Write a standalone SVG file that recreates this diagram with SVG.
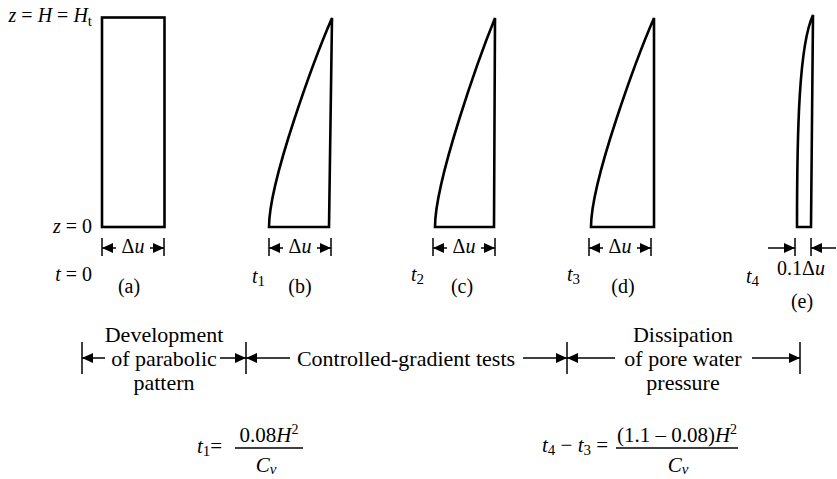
<svg xmlns="http://www.w3.org/2000/svg" width="837" height="479" viewBox="0 0 837 479">
<style>
.sh{fill:#fff;stroke:#000;stroke-width:2.6;stroke-linejoin:miter}
.tk{stroke:#000;stroke-width:1.5}
.ar{stroke:#000;stroke-width:1.5;fill:none;marker-end:url(#ah)}
.fl{stroke:#000;stroke-width:1.3}
</style>
<defs>
<marker id="ah" viewBox="0 0 11 10" refX="11" refY="5" markerWidth="11" markerHeight="10" orient="auto" markerUnits="userSpaceOnUse">
<path d="M0,0 L11,5 L0,10 Z" fill="#000"/>
</marker>
</defs>

<g id="labels-left">
<text font-family="Liberation Serif" font-size="20" text-anchor="end" x="92" y="22"><tspan font-style="italic">z</tspan> = <tspan font-style="italic">H</tspan> = <tspan font-style="italic">H</tspan><tspan font-size="15" dy="4">t</tspan></text>
<text font-family="Liberation Serif" font-size="20" text-anchor="end" x="92" y="233"><tspan font-style="italic">z</tspan> = 0</text>
<text font-family="Liberation Serif" font-size="20" text-anchor="end" x="92" y="281"><tspan font-style="italic">t</tspan> = 0</text>
</g>

<g id="node-a">
<rect class="sh" x="102" y="17.5" width="62.5" height="209.5"/>
<line class="tk" x1="102" y1="238" x2="102" y2="256"/>
<line class="tk" x1="164" y1="238" x2="164" y2="256"/>
<text font-family="Liberation Serif" font-size="20" text-anchor="middle" x="133" y="253">Δ<tspan font-style="italic">u</tspan></text>
<text font-family="Liberation Serif" font-size="20" text-anchor="middle" x="129" y="293">(a)</text>
</g>

<g id="node-b">
<path class="sh" d="M269,227 C269,180 316,55 332,18 L329,227 Z"/>
<line class="tk" x1="269" y1="238" x2="269" y2="256"/>
<line class="tk" x1="331" y1="238" x2="331" y2="256"/>
<text font-family="Liberation Serif" font-size="20" text-anchor="middle" x="300" y="253">Δ<tspan font-style="italic">u</tspan></text>
<text font-family="Liberation Serif" font-size="20" x="252" y="283"><tspan font-style="italic">t</tspan><tspan font-size="15" dy="3">1</tspan></text>
<text font-family="Liberation Serif" font-size="20" text-anchor="middle" x="300" y="293">(b)</text>
</g>

<g id="node-c">
<path class="sh" d="M435,227 C435,180 480,55 495,18 L494,227 Z"/>
<line class="tk" x1="433" y1="238" x2="433" y2="256"/>
<line class="tk" x1="495" y1="238" x2="495" y2="256"/>
<text font-family="Liberation Serif" font-size="20" text-anchor="middle" x="464" y="253">Δ<tspan font-style="italic">u</tspan></text>
<text font-family="Liberation Serif" font-size="20" x="411" y="281"><tspan font-style="italic">t</tspan><tspan font-size="15" dy="3">2</tspan></text>
<text font-family="Liberation Serif" font-size="20" text-anchor="middle" x="462" y="293">(c)</text>
</g>

<g id="node-d">
<path class="sh" d="M591,227 C591,180 638,55 654,18 L654,227 Z"/>
<line class="tk" x1="589" y1="238" x2="589" y2="256"/>
<line class="tk" x1="651" y1="238" x2="651" y2="256"/>
<text font-family="Liberation Serif" font-size="20" text-anchor="middle" x="620" y="253">Δ<tspan font-style="italic">u</tspan></text>
<text font-family="Liberation Serif" font-size="20" x="567" y="281"><tspan font-style="italic">t</tspan><tspan font-size="15" dy="3">3</tspan></text>
<text font-family="Liberation Serif" font-size="20" text-anchor="middle" x="623" y="293">(d)</text>
</g>

<g id="node-e">
<path class="sh" d="M797,227 C797,130 799,45 813,15 L811,227 Z"/>
<line class="tk" x1="795" y1="238" x2="795" y2="256"/>
<line class="tk" x1="811" y1="238" x2="811" y2="256"/>
<text font-family="Liberation Serif" font-size="20" text-anchor="middle" x="801" y="275">0.1Δ<tspan font-style="italic">u</tspan></text>
<text font-family="Liberation Serif" font-size="20" x="746" y="283"><tspan font-style="italic">t</tspan><tspan font-size="15" dy="3">4</tspan></text>
<text font-family="Liberation Serif" font-size="20" text-anchor="middle" x="802" y="308">(e)</text>
</g>

<g id="connectors">
<path class="ar" d="M116,248 H102"/>
<path class="ar" d="M150,248 H164"/>
<path class="ar" d="M283,248 H269"/>
<path class="ar" d="M317,248 H331"/>
<path class="ar" d="M447,248 H433"/>
<path class="ar" d="M481,248 H495"/>
<path class="ar" d="M603,248 H589"/>
<path class="ar" d="M637,248 H651"/>
<path class="ar" d="M768,248 H795"/>
<path class="ar" d="M836,248 H811"/>
<line class="tk" x1="82" y1="342" x2="82" y2="374"/>
<line class="tk" x1="246" y1="342" x2="246" y2="374"/>
<line class="tk" x1="567" y1="342" x2="567" y2="374"/>
<line class="tk" x1="800" y1="342" x2="800" y2="374"/>
<path class="ar" d="M105,358 H82"/>
<path class="ar" d="M220,358 H246"/>
<path class="ar" d="M290,358 H246"/>
<path class="ar" d="M523,358 H567"/>
<path class="ar" d="M615,358 H567"/>
<path class="ar" d="M752,358 H800"/>
</g>

<g id="phase-1">
<text font-family="Liberation Serif" font-size="22" text-anchor="middle" x="164" y="342">Development</text>
<text font-family="Liberation Serif" font-size="22" text-anchor="middle" x="164" y="366">of parabolic</text>
<text font-family="Liberation Serif" font-size="22" text-anchor="middle" x="164" y="390">pattern</text>
</g>
<g id="phase-2">
<text font-family="Liberation Serif" font-size="22" text-anchor="middle" x="406" y="366">Controlled-gradient tests</text>
</g>
<g id="phase-3">
<text font-family="Liberation Serif" font-size="22" text-anchor="middle" x="683" y="342">Dissipation</text>
<text font-family="Liberation Serif" font-size="22" text-anchor="middle" x="683" y="366">of pore water</text>
<text font-family="Liberation Serif" font-size="22" text-anchor="middle" x="683" y="390">pressure</text>
</g>

<g id="formula-1">
<text font-family="Liberation Serif" font-size="21" x="197" y="453"><tspan font-style="italic">t</tspan><tspan font-size="15" dy="3">1</tspan><tspan dy="-3">=</tspan></text>
<line class="fl" x1="235" y1="448" x2="303" y2="448"/>
<text font-family="Liberation Serif" font-size="21" text-anchor="middle" x="269" y="442">0.08<tspan font-style="italic">H</tspan><tspan font-size="14" dy="-8">2</tspan></text>
<text font-family="Liberation Serif" font-size="21" text-anchor="middle" x="266" y="472"><tspan font-style="italic">C</tspan><tspan font-style="italic" font-size="15" dy="2">v</tspan></text>
</g>

<g id="formula-2">
<text font-family="Liberation Serif" font-size="21" x="542" y="452"><tspan font-style="italic">t</tspan><tspan font-size="15" dy="3">4</tspan><tspan dy="-3"> − </tspan><tspan font-style="italic">t</tspan><tspan font-size="15" dy="3">3</tspan><tspan dy="-3"> =</tspan></text>
<line class="fl" x1="616" y1="448" x2="738" y2="448"/>
<text font-family="Liberation Serif" font-size="21" text-anchor="middle" x="677" y="442">(1.1 – 0.08)<tspan font-style="italic">H</tspan><tspan font-size="14" dy="-8">2</tspan></text>
<text font-family="Liberation Serif" font-size="21" text-anchor="middle" x="678" y="472"><tspan font-style="italic">C</tspan><tspan font-style="italic" font-size="15" dy="2">v</tspan></text>
</g>
</svg>
